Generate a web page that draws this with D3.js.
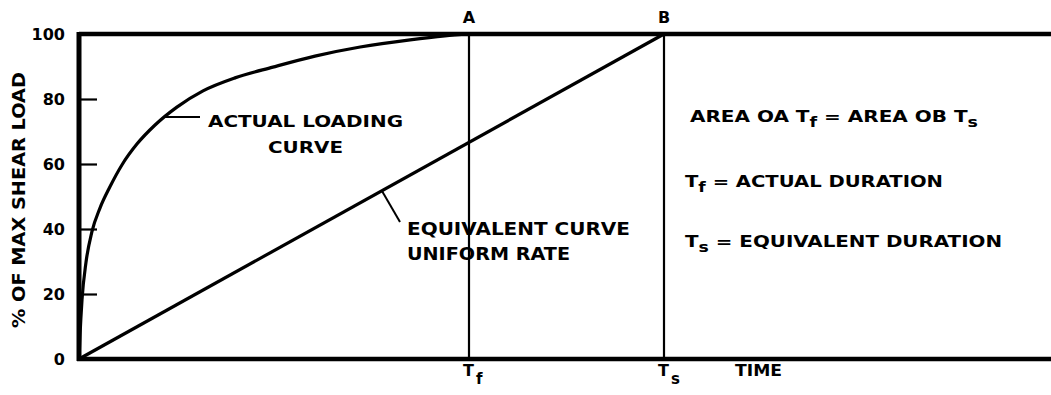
<!DOCTYPE html>
<html><head><meta charset="utf-8">
<script src="https://cdn.jsdelivr.net/npm/d3@7"></script>
<style>body{margin:0;background:#fff}svg{display:block}text{font-family:"DejaVu Sans",sans-serif;font-weight:bold;fill:#000}</style>
</head><body><svg id="c" width="1051" height="395"></svg>
<script>
// time in units of Tf (actual duration); load in % of max shear load
const yTicks = [0, 20, 40, 60, 80, 100];
const actualTime = [0, 0.0026, 0.0077, 0.018, 0.033, 0.054, 0.079, 0.110, 0.149, 0.195, 0.251, 0.318, 0.400, 0.497, 0.605, 0.721, 0.849, 0.938, 1.0];
const actualLoad = [0, 7.4, 18.2, 29.8, 39.1, 46.5, 52.9, 59.7, 66.2, 72.0, 77.5, 82.5, 86.5, 89.8, 93.2, 96.0, 98.2, 99.4, 100];
const equivTime = [0, 1.5];
const equivLoad = [0, 100];
const markTime = [1.0, 1.5];
const markTop = ["A", "B"];
const markBottom = [["T", "f"], ["T", "s"]];
const timeMax = 2.5;

const svg = d3.select("#c");
const x = d3.scaleLinear().domain([0, timeMax]).range([79, 1054]);
const y = d3.scaleLinear().domain([0, 100]).range([359, 34]);

// vertical lines at Tf and Ts
svg.selectAll("line.mark").data(markTime).enter().append("line")
  .attr("x1", d => x(d)).attr("x2", d => x(d))
  .attr("y1", y(100)).attr("y2", y(0))
  .attr("stroke", "#000").attr("stroke-width", 2.2);

// frame: top, bottom, left
svg.append("line").attr("x1", x(0)).attr("x2", 1051).attr("y1", y(100)).attr("y2", y(100))
  .attr("stroke", "#000").attr("stroke-width", 4.5);
svg.append("line").attr("x1", x(0) - 2).attr("x2", 1051).attr("y1", y(0)).attr("y2", y(0))
  .attr("stroke", "#000").attr("stroke-width", 4.5);
svg.append("line").attr("x1", x(0)).attr("x2", x(0)).attr("y1", y(100) - 2).attr("y2", y(0) + 2)
  .attr("stroke", "#000").attr("stroke-width", 5);

// inward ticks
const yAxis = d3.axisLeft(y).tickValues(yTicks).tickSize(-18).tickPadding(32).tickFormat(d3.format("d"));
const ga = svg.append("g").attr("transform", `translate(${x(0)},0)`).call(yAxis);
ga.select(".domain").remove();
ga.selectAll(".tick line").attr("stroke", "#000").attr("stroke-width", 2.2)
  .attr("display", d => (d === 0 || d === 100) ? "none" : null);
ga.selectAll(".tick text").attr("x", -14).attr("font-size", 16).attr("font-family", "DejaVu Sans")
  .attr("font-weight", "bold").attr("fill", "#000").attr("dy", "0.36em");

// curves
const line = d3.line().x(d => x(d[0])).y(d => y(d[1])).curve(d3.curveMonotoneX);
svg.append("path").datum(actualTime.map((t, i) => [t, actualLoad[i]]))
  .attr("d", line).attr("fill", "none").attr("stroke", "#000").attr("stroke-width", 3.2);
svg.append("path").datum(equivTime.map((t, i) => [t, equivLoad[i]]))
  .attr("d", d3.line().x(d => x(d[0])).y(d => y(d[1]))).attr("fill", "none")
  .attr("stroke", "#000").attr("stroke-width", 3.2);

// leaders
svg.append("line").attr("x1", 164).attr("y1", 117).attr("x2", 200).attr("y2", 117)
  .attr("stroke", "#000").attr("stroke-width", 2);
svg.append("line").attr("x1", 382).attr("y1", 191).attr("x2", 400).attr("y2", 222)
  .attr("stroke", "#000").attr("stroke-width", 2);

// axis title
svg.append("text").attr("transform", "translate(25,200) rotate(-90)")
  .attr("text-anchor", "middle").attr("font-size", 17)
  .attr("textLength", 256).attr("lengthAdjust", "spacingAndGlyphs")
  .text("% OF MAX SHEAR LOAD");

// A, B
svg.selectAll("text.top").data(markTime).enter().append("text")
  .attr("x", d => x(d)).attr("y", 23).attr("text-anchor", "middle").attr("font-size", 16)
  .text((d, i) => markTop[i]);

// Tf, Ts under axis
markTime.forEach((t, i) => {
  const tx = svg.append("text").attr("x", x(t) - 6).attr("y", 376).attr("font-size", 16);
  tx.append("tspan").text(markBottom[i][0]);
  tx.append("tspan").attr("dy", 8).attr("dx", 2).attr("font-size", 15).text(markBottom[i][1]);
});
svg.append("text").attr("x", 735).attr("y", 376).attr("font-size", 15)
  .attr("textLength", 47).attr("lengthAdjust", "spacingAndGlyphs").text("TIME");

// curve labels
function label(txt, x0, y0, len, fs) {
  svg.append("text").attr("x", x0).attr("y", y0).attr("font-size", fs)
    .attr("textLength", len).attr("lengthAdjust", "spacingAndGlyphs").text(txt);
}
label("ACTUAL LOADING", 208, 127, 195, 16);
label("CURVE", 268, 153, 75, 16);
label("EQUIVALENT CURVE", 407, 235, 223, 17);
label("UNIFORM RATE", 407, 260, 163, 17);

// right annotations
function sub(parts, x0, y0, len) {
  const t = svg.append("text").attr("x", x0).attr("y", y0).attr("font-size", 16)
    .attr("textLength", len).attr("lengthAdjust", "spacingAndGlyphs");
  parts.forEach(p => {
    const s = t.append("tspan").text(p[0]);
    if (p[1] === "sub") s.attr("dy", 5).attr("font-size", 14);
    if (p[1] === "up") s.attr("dy", -5);
  });
}
sub([["AREA OA T"], ["f", "sub"], [" = AREA OB T", "up"], ["s", "sub"]], 690, 122, 288);
sub([["T"], ["f", "sub"], [" = ACTUAL DURATION", "up"]], 685, 187, 258);
sub([["T"], ["s", "sub"], [" = EQUIVALENT DURATION", "up"]], 685, 247, 317);
</script></body></html>
